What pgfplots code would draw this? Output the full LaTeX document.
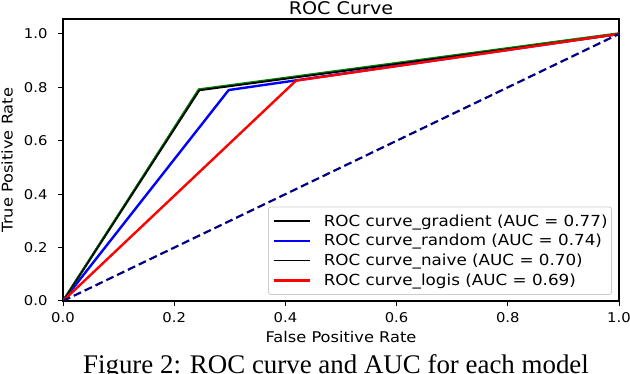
\documentclass[border=0pt]{standalone}
\usepackage{fontspec}
\setmainfont{DejaVu Sans}[FakeStretch=1.1]
\newfontfamily\capfont{Liberation Serif}
\usepackage{pgfplots}
\pgfplotsset{compat=1.18}
\definecolor{rocgreen}{RGB}{0,128,0}
\definecolor{rocnavy}{RGB}{0,0,128}

\begin{document}
\begin{tikzpicture}
\useasboundingbox (0,0) rectangle (630bp,374bp);
\begin{axis}[
  at={(63bp,73bp)}, anchor=south west,
  scale only axis, width=556bp, height=282bp,
  xmin=0, xmax=1, ymin=0, ymax=1.056,
  xtick={0,0.2,0.4,0.6,0.8,1}, ytick={0,0.2,0.4,0.6,0.8,1},
  /pgf/number format/.cd, fixed, fixed zerofill, precision=1, assume math mode=true,
  /pgfplots/.cd,
  tick pos=left, tick align=outside, major tick length=5bp,
  tick style={black, line width=1bp},
  axis line style={black, line width=1.1bp},
  tick label style={font=\fontsize{13.5}{15}\selectfont},
  xticklabel style={yshift=-3bp},
  yticklabel style={xshift=-7bp},
  title={ROC Curve},
  title style={at={(axis description cs:0.5,1.0177)}, anchor=base, yshift=-6pt, font=\fontsize{17.5}{20}\selectfont},
  xlabel={False Positive Rate},
  xlabel style={at={(axis description cs:0.5,-0.127)}, anchor=center, font=\fontsize{14.8}{17}\selectfont},
  ylabel={True Positive Rate},
  ylabel style={at={(axis description cs:-0.1007,0.5)}, anchor=center, font=\fontsize{14.8}{17}\selectfont},
  legend cell align=left,
  legend image code/.code={\draw[#1] (0bp,0bp) -- (36bp,0bp);},
  legend style={at={(1,0)}, anchor=south east, xshift=-7bp, yshift=6bp,
    draw=black!20, rounded corners=2.5bp, line width=0.8bp,
    inner xsep=4bp, inner ysep=7bp, row sep=5.2bp, column sep=13bp,
    font=\fontsize{15.3}{17}\selectfont,
    nodes={inner sep=0pt, text height=12.3bp, text depth=2.2bp}},
]
\addplot[black, line width=2.4bp] coordinates {(0,0) (0.245,0.79) (1,1)};
\addlegendentry{ROC curve\_gradient (AUC = 0.77)}
\addplot[blue, line width=2.4bp] coordinates {(0,0) (0.298,0.79) (1,1)};
\addlegendentry{ROC curve\_random (AUC = 0.74)}
\addplot[rocgreen, line width=1.8bp, forget plot] coordinates {(0,0) (0.244,0.793) (1,1.003)};
\addplot[black, line width=1.1bp] coordinates {(0,0) (0.245,0.79) (1,1)};
\addlegendentry{ROC curve\_naive (AUC = 0.70)}
\addplot[red, line width=2.4bp] coordinates {(0,0) (0.419,0.825) (1,1)};
\addlegendentry{ROC curve\_logis (AUC = 0.69)}
\addplot[rocnavy, line width=2.2bp, dash pattern=on 8bp off 4bp, forget plot] coordinates {(0,0) (1,1)};
\end{axis}
\node[anchor=base, font=\capfont\fontsize{27}{30}\selectfont] at (336bp,1bp) {Figure 2: ROC curve and AUC for each model};
\end{tikzpicture}
\end{document}
